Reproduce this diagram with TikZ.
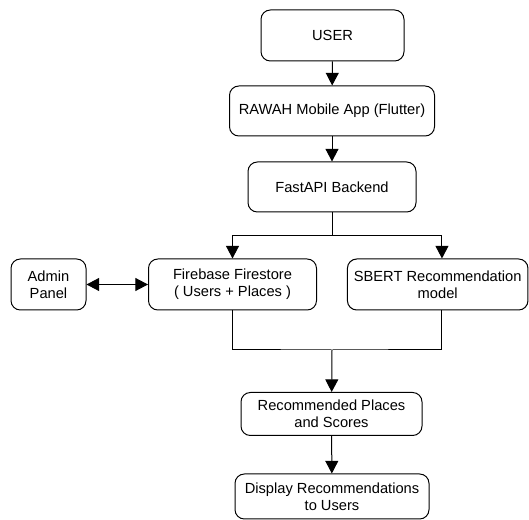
\documentclass[tikz,border=0pt]{standalone}
\usepackage{fontspec}
\setmainfont{Liberation Sans}
\usetikzlibrary{arrows.meta}

\begin{document}
\begin{tikzpicture}[x=0.75pt,y=0.75pt,yscale=-1,xscale=1,
  flowbox/.style={draw, line width=0.75pt, rounded corners=7pt, align=center, inner sep=0pt,
    font=\fontsize{11}{13}\selectfont},
  flowarrow/.style={line width=0.75pt, -{Triangle[length=9.5pt,width=9.75pt]}},
  flowline/.style={line width=0.75pt}
]
%set diagram left start at 0, and has height of 520
\useasboundingbox (0,0) rectangle (529,520);

% Text Node
\node [flowbox, minimum width=107.25pt, minimum height=38.25pt] (user) at (332.5,35.5) {USER};
% Text Node
\node [flowbox, minimum width=153.75pt, minimum height=37.5pt] (app) at (332,111) {RAWAH Mobile App (Flutter)};
% Text Node
\node [flowbox, minimum width=126pt, minimum height=37.5pt] (api) at (332,187) {FastAPI Backend};
% Text Node
\node [flowbox, minimum width=56.25pt, minimum height=38.25pt] (admin) at (48.5,284.5) {Admin\\Panel};
% Text Node
\node [flowbox, minimum width=126pt, minimum height=38.25pt] (store) at (232.5,284.5) {Firebase Firestore\\( Users + Places )};
% Text Node
\node [flowbox, minimum width=135.4pt, minimum height=38.25pt] (sbert) at (437.7,284.5) {SBERT Recommendation\\model};
% Text Node
\node [flowbox, minimum width=135.75pt, minimum height=32.25pt] (recs) at (331.5,414) {Recommended Places\\and Scores};
% Text Node
\node [flowbox, minimum width=145.5pt, minimum height=33.75pt] (show) at (332,496.5) {Display Recommendations\\to Users};

%Branch points
\coordinate (split) at (332,236);
\coordinate (merge) at (332,350);

%Connectors
\draw [flowarrow] (user) -- (app);
\draw [flowarrow] (app) -- (api);
\draw [flowline] (api.south) -- (split);
\draw [flowarrow] (split) -| (store.north);
\draw [flowarrow] (split) -| ([xshift=3.2pt]sbert.north);
\draw [line width=0.75pt, {Triangle[length=9.5pt,width=9.75pt]}-{Triangle[length=9.5pt,width=9.75pt]}] (admin) -- (store);
\draw [flowline] (store.south) |- (merge) -| ([xshift=3.2pt]sbert.south);
\draw [flowarrow] (merge) -- (recs);
\draw [flowarrow] (recs) -- (show);

\end{tikzpicture}
\end{document}
